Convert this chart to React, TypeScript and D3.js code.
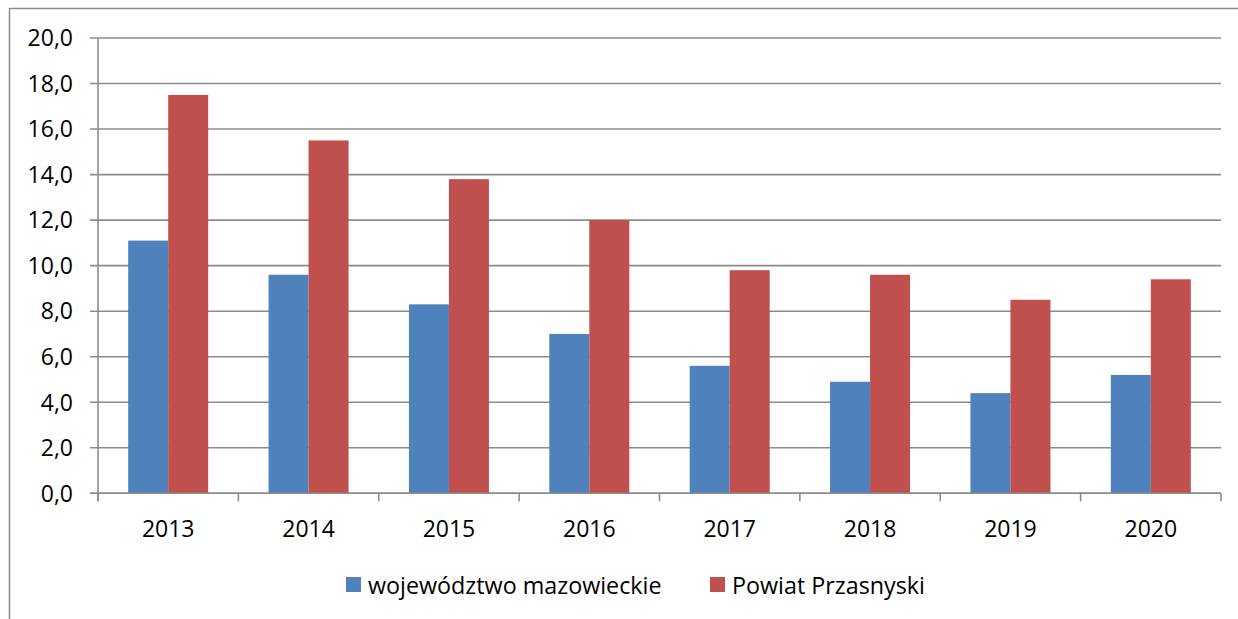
import React, { useEffect, useRef } from "react";
import * as d3 from "d3";

const years = ["2013", "2014", "2015", "2016", "2017", "2018", "2019", "2020"];
const mazowieckie = [11.1, 9.6, 8.3, 7.0, 5.6, 4.9, 4.4, 5.2];
const przasnyski = [17.5, 15.5, 13.8, 12.0, 9.8, 9.6, 8.5, 9.4];
const seriesNames = ["województwo mazowieckie", "Powiat Przasnyski"];
const seriesColors = ["#4F81BD", "#C0504D"];
const yTicks = [0, 2, 4, 6, 8, 10, 12, 14, 16, 18, 20];

const W = 1238;
const H = 619;
const FONT = "'Open Sans', 'Noto Sans', sans-serif";

const App = () => {
  const ref = useRef<SVGSVGElement | null>(null);

  useEffect(() => {
    const svg = d3.select(ref.current);
    svg.selectAll("*").remove();

    const left = 98, right = 1221, top = 38, bottom = 493.3;
    const grid = "#8c8c8c";

    // outer frame (runs past the picture on the right and bottom)
    svg.append("rect")
      .attr("x", 9.5).attr("y", 8.5)
      .attr("width", W + 20).attr("height", H + 20)
      .attr("fill", "#fff")
      .attr("stroke", "#8a8a8a")
      .attr("stroke-width", 1.5);

    const x = d3.scaleBand().domain(years).range([left, right]);
    const y = d3.scaleLinear().domain([0, 20]).range([bottom, top]);

    // gridlines + y ticks
    svg.append("g").selectAll("line")
      .data(yTicks)
      .join("line")
      .attr("x1", left - 8).attr("x2", right)
      .attr("y1", (d) => y(d)).attr("y2", (d) => y(d))
      .attr("stroke", grid)
      .attr("stroke-width", 1.6);

    svg.append("g").selectAll("text")
      .data(yTicks)
      .join("text")
      .attr("x", 73)
      .attr("y", (d) => y(d))
      .attr("dy", "0.36em")
      .attr("text-anchor", "end")
      .style("font", `23px ${FONT}`)
      .attr("fill", "#000")
      .text((d) => d3.format(".1f")(d).replace(".", ","));

    // bars
    const bw = 40;
    const series = [mazowieckie, przasnyski];
    series.forEach((vals, si) => {
      svg.append("g").selectAll("rect")
        .data(vals)
        .join("rect")
        .attr("x", (d, i) => x(years[i])! + x.bandwidth() / 2 - bw + si * bw)
        .attr("y", (d) => y(d))
        .attr("width", bw)
        .attr("height", (d) => y(0) - y(d))
        .attr("fill", seriesColors[si]);
    });

    // y axis line
    svg.append("line")
      .attr("x1", left).attr("x2", left)
      .attr("y1", top).attr("y2", bottom + 8)
      .attr("stroke", grid).attr("stroke-width", 1.6);

    // x axis line and ticks
    svg.append("line")
      .attr("x1", left - 8).attr("x2", right)
      .attr("y1", bottom).attr("y2", bottom)
      .attr("stroke", grid).attr("stroke-width", 1.6);

    const boundaries = years.map((yr) => x(yr)!).concat([right]);
    svg.append("g").selectAll("line")
      .data(boundaries)
      .join("line")
      .attr("x1", (d) => d).attr("x2", (d) => d)
      .attr("y1", bottom).attr("y2", bottom + 8)
      .attr("stroke", grid).attr("stroke-width", 1.6);

    svg.append("g").selectAll("text")
      .data(years)
      .join("text")
      .attr("x", (d) => x(d)! + x.bandwidth() / 2)
      .attr("y", 537)
      .attr("text-anchor", "middle")
      .style("font", `23px ${FONT}`)
      .attr("fill", "#000")
      .text((d) => d);

    // legend
    const legendX = [346, 710];
    seriesNames.forEach((name, i) => {
      svg.append("rect")
        .attr("x", legendX[i]).attr("y", 577)
        .attr("width", 15).attr("height", 15)
        .attr("fill", seriesColors[i]);
      svg.append("text")
        .attr("x", legendX[i] + 22)
        .attr("y", 594)
        .style("font", `23.3px ${FONT}`)
        .attr("fill", "#000")
        .text(name);
    });
  });

  return (
    <svg
      ref={ref}
      width={W}
      height={H}
      style={{ position: "absolute", left: 0, top: 0, display: "block" }}
    />
  );
};

export default App;
